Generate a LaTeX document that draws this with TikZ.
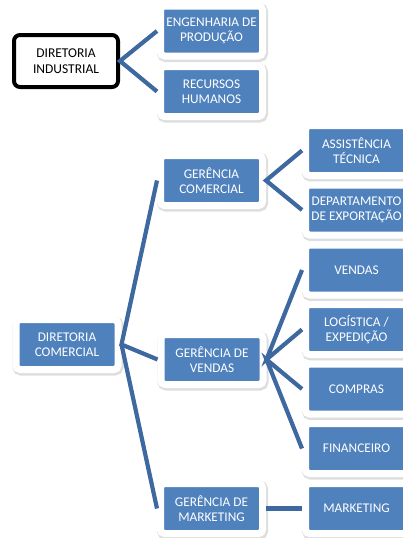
\documentclass[tikz,border=0pt]{standalone}
\usepackage{fontspec}
\setmainfont{Carlito}
\usepackage{tikz}

\definecolor{azul}{RGB}{79,129,189}
\definecolor{linha}{RGB}{62,104,160}

\begin{document}
\begin{tikzpicture}[x=1pt, y=-1pt,
        caixa/.style={fill=azul, draw=white, line width=7pt, rounded corners=4pt,
            minimum width=102pt, minimum height=50pt, inner sep=0pt, align=center,
            text=white, font=\fontsize{13.3}{15.5}\selectfont,
            preaction={draw=black!13, line width=9pt, transform canvas={xshift=1pt, yshift=-1.5pt}}},
        diretoria/.style={fill=white, draw=black, line width=4pt, rounded corners=6pt,
            minimum width=104pt, minimum height=52pt, inner sep=0pt, align=center,
            font=\fontsize{13.5}{15.5}\selectfont},
        liga/.style={draw=linha, line width=4.2pt}]

        \useasboundingbox (0,0) rectangle (402,538);

        \node[diretoria] (dirind) at (66,61) {DIRETORIA\\INDUSTRIAL};
        \node[caixa] (engprod) at (211.5,31) {ENGENHARIA DE\\PRODUÇÃO};
        \node[caixa] (recursos) at (211.5,91.5) {RECURSOS\\HUMANOS};

        \node[caixa] (dircom) at (67,344.5) {DIRETORIA\\COMERCIAL};
        \node[caixa] (gercom) at (211.5,180.5) {GERÊNCIA\\COMERCIAL};
        \node[caixa] (gervendas) at (212,359.5) {GERÊNCIA DE\\VENDAS};
        \node[caixa] (germkt) at (211.5,508.5) {GERÊNCIA DE\\MARKETING};

        \node[caixa] (assist) at (356.5,150.5) {ASSISTÊNCIA\\TÉCNICA};
        \node[caixa] (export) at (356.5,210) {DEPARTAMENTO\\DE EXPORTAÇÃO};
        \node[caixa] (vendas) at (356.5,270) {VENDAS};
        \node[caixa] (logist) at (356.5,329.5) {LOGÍSTICA /\\EXPEDIÇÃO};
        \node[caixa] (compras) at (356.5,389) {COMPRAS};
        \node[caixa] (financ) at (356.5,448.5) {FINANCEIRO};
        \node[caixa] (mkt) at (356.5,508.5) {MARKETING};

        \draw[liga] (engprod.west) -- (dirind.east) -- (recursos.west);
        \draw[liga] (assist.west) -- (gercom.east) -- (export.west);
        \draw[liga] (gercom.west) -- (dircom.east) -- (gervendas.west);
        \draw[liga] (dircom.east) -- (germkt.west);
        \draw[liga] (vendas.west) -- (gervendas.east) -- (logist.west);
        \draw[liga] (compras.west) -- (gervendas.east) -- (financ.west);
        \draw[liga] (germkt.east) -- (mkt.west);

    \end{tikzpicture}
\end{document}
